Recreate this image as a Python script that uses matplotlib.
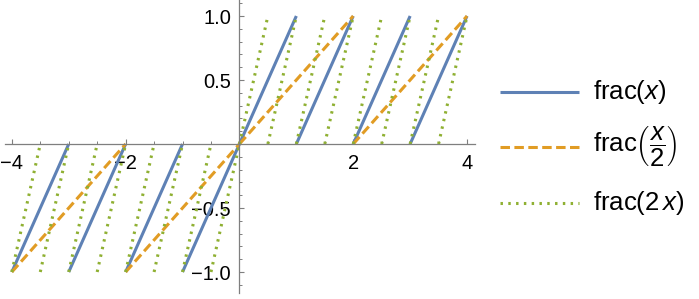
import matplotlib
matplotlib.use("Agg")
import matplotlib.pyplot as plt
from matplotlib.lines import Line2D
import numpy as np

plt.rcParams['font.family'] = ['Liberation Sans', 'DejaVu Sans']
plt.rcParams['mathtext.fontset'] = 'custom'
plt.rcParams['mathtext.rm'] = 'Liberation Sans'
plt.rcParams['mathtext.it'] = 'Liberation Sans:italic'

# Segment endpoints for each sawtooth (x start, x end, y start, y end)
frac_x_x0 = [-4, -3, -2, -1, 0, 1, 2, 3]
frac_x_x1 = [-3, -2, -1, 0, 1, 2, 3, 4]
frac_x_y0 = [-1, -1, -1, -1, 0, 0, 0, 0]
frac_x_y1 = [0, 0, 0, 0, 1, 1, 1, 1]

frac_half_x0 = [-4, -2, 0, 2]
frac_half_x1 = [-2, 0, 2, 4]
frac_half_y0 = [-1, -1, 0, 0]
frac_half_y1 = [0, 0, 1, 1]

frac_2x_x0 = [-4, -3.5, -3, -2.5, -2, -1.5, -1, -0.5, 0, 0.5, 1, 1.5, 2, 2.5, 3, 3.5]
frac_2x_x1 = [-3.5, -3, -2.5, -2, -1.5, -1, -0.5, 0, 0.5, 1, 1.5, 2, 2.5, 3, 3.5, 4]
frac_2x_y0 = [-1] * 8 + [0] * 8
frac_2x_y1 = [0] * 8 + [1] * 8

labels = [r'frac$(\mathit{x})$', r'frac$\left(\dfrac{\mathit{x}}{2}\right)$', r'frac$(2\,\mathit{x})$']
xticks_major = [-4, -2, 2, 4]
xtick_labels = ['\u22124', '\u22122', '2', '4']
yticks_major = [-1.0, -0.5, 0.5, 1.0]
ytick_labels = ['\u22121.0', '\u22120.5', '0.5', '1.0']

blue = '#5E81B5'
orange = '#E19C24'
green = '#8FB032'

W, H = 699, 299
fig = plt.figure(figsize=(W / 100, H / 100), dpi=100)
ax = fig.add_axes([5/W, 6/H, (475-5)/W, (H-6)/H])


def segs(x0, x1, y0, y1):
    xs, ys = [], []
    for a, b, c, d in zip(x0, x1, y0, y1):
        xs += [a, b, np.nan]
        ys += [c, d, np.nan]
    return xs, ys

lw = 2.2
styles = [
    dict(color=blue, lw=lw, solid_capstyle='butt'),
    dict(color=orange, lw=lw, ls=(0, (3.1, 1.45)), dash_capstyle='butt'),
    dict(color=green, lw=lw, ls=(0, (0.8, 1.75)), dash_capstyle='butt'),
]
data = [
    (frac_x_x0, frac_x_x1, frac_x_y0, frac_x_y1),
    (frac_half_x0, frac_half_x1, frac_half_y0, frac_half_y1),
    (frac_2x_x0, frac_2x_x1, frac_2x_y0, frac_2x_y1),
]
for d, st in zip(data, styles):
    xs, ys = segs(*d)
    ax.plot(xs, ys, **st)

ax.set_xlim(-4.12, 4.14)
ax.set_ylim(-1.164, 1.125)

for s in ['top', 'right']:
    ax.spines[s].set_visible(False)
ax.spines['left'].set_position(('data', 0))
ax.spines['bottom'].set_position(('data', 0))
for s in ['left', 'bottom']:
    ax.spines[s].set_color('#7f7f7f')
    ax.spines[s].set_linewidth(0.9)

ax.set_xticks(xticks_major)
ax.set_xticklabels(xtick_labels)
ax.set_xticks(np.arange(-4, 4.01, 0.5), minor=True)
ax.set_yticks(yticks_major)
ax.set_yticklabels(ytick_labels)
ax.set_yticks(np.arange(-1.1, 1.11, 0.1), minor=True)

for axis in ['x', 'y']:
    ax.tick_params(axis=axis, which='major', direction='in', length=3.5, width=0.8,
                   color='#7f7f7f', labelsize=14.5, pad=6)
    ax.tick_params(axis=axis, which='minor', direction='in', length=2.2, width=0.7,
                   color='#7f7f7f')
ax.tick_params(axis='x', which='major', pad=7)
ax.patch.set_alpha(0)

# Manual legend (pixel positions)
rows_y = [92, 147, 203]
for yy, st, lab in zip(rows_y, styles, labels):
    fy = 1 - yy / H
    fig.add_artist(Line2D([500 / W, 579 / W], [fy, fy], transform=fig.transFigure, **st))
    fig.text(593 / W, fy, lab, fontsize=18.5, va='center', ha='left')

fig.savefig('out.png', dpi=100)
